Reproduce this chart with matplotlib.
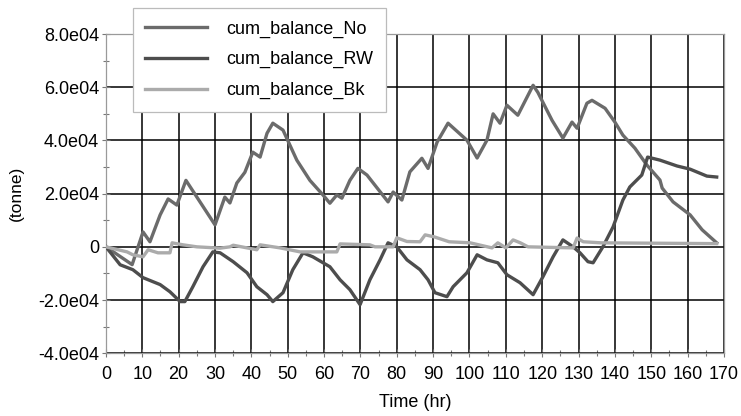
import matplotlib
matplotlib.use('Agg')
import matplotlib.pyplot as plt
from matplotlib.ticker import MultipleLocator, FuncFormatter

# keypoints (hr, tonne)
t_no = [0, 7.2, 10.2, 12.1, 14.9, 17.1, 19.5, 22.0, 30.0, 32.7, 34.1, 36.0, 38.2, 40.4, 42.4,
        44.3, 45.9, 48.7, 52.5, 56.1, 59.7, 61.6, 63.5, 64.9, 67.1, 69.3, 71.8, 77.6, 79.0,
        81.4, 83.6, 86.9, 88.6, 91.1, 94.1, 99.3, 102.1, 104.8, 106.5, 108.4, 110.3, 113.3,
        117.5, 118.8, 122.7, 125.7, 128.2, 129.6, 132.3, 133.7, 137.3, 140.0, 142.2, 145.5,
        148.8, 152.4, 153.0, 156.0, 160.7, 164.0, 168]
v_no = [0, -6700, 5600, 1900, 12000, 18000, 15700, 25000, 8250, 18700, 16500, 24000, 28000,
        35600, 33750, 42700, 46500, 43900, 32600, 25000, 19500, 16400, 19500, 18300, 25000,
        29500, 27000, 16900, 20600, 17600, 28200, 33300, 29500, 39400, 46500, 40100, 33400,
        40100, 50000, 46500, 53250, 49500, 60750, 58100, 47600, 40900, 46900, 44600, 54000,
        55100, 52100, 46900, 42000, 37100, 30750, 25100, 22100, 16900, 12000, 6400, 1500]

t_rw = [0, 3.9, 7.4, 10.2, 14.9, 17.6, 20.4, 21.7, 23.9, 26.7, 29.4, 31.4, 35.0, 38.8, 41.5,
        44.3, 45.9, 48.7, 51.4, 54.2, 56.9, 61.6, 64.4, 67.1, 69.9, 72.6, 75.4, 77.6, 80.0,
        82.8, 86.4, 88.6, 90.5, 93.8, 95.5, 99.3, 102.1, 104.8, 107.8, 110.3, 113.9, 117.5,
        120.2, 123.0, 125.7, 128.5, 130.4, 132.6, 134.0, 136.7, 139.5, 142.2, 144.1, 147.4,
        149.0, 152.4, 157.1, 160.7, 165.3, 168]
v_rw = [0, -6750, -8600, -11600, -14200, -16900, -20600, -20600, -15000, -7500, -1900, -2250,
        -5600, -9750, -15000, -18000, -20600, -17250, -8600, -2250, -3750, -7500, -12400,
        -16100, -21750, -12400, -4900, 1500, 0, -4900, -8600, -12400, -17250, -18750, -15000,
        -9750, -3000, -4900, -6000, -10500, -13500, -18000, -11250, -3750, 2600, 0, -2250,
        -5600, -6000, 0, 7500, 17600, 22500, 27000, 33750, 32600, 30400, 29200, 26600, 26250]

t_bk = [0, 5.8, 7.4, 10.2, 11.6, 14.3, 17.6, 18.2, 21.2, 25.0, 31.4, 34.1, 35.0, 41.5, 42.4,
        47.9, 53.4, 63.5, 64.4, 72.6, 74.0, 79.0, 80.0, 82.8, 86.4, 87.8, 90.3, 94.4, 100.2,
        106.2, 107.8, 110.0, 112.0, 114.0, 116.1, 128.5, 129.6, 131.3, 136.2, 168]
v_bk = [0, -1900, -3000, -3750, -1100, -2250, -2250, 1500, 750, 0, -500, 0, 600, -1100, 750,
        -400, -1900, -1900, 1100, 750, 0, 0, 3400, 2000, 1900, 4500, 3750, 1900, 1500, -400,
        1500, -400, 2600, 1500, 0, -400, 3300, 1900, 1500, 1200]

xticks = list(range(0, 171, 10))
yticks = [-40000, -20000, 0, 20000, 40000, 60000, 80000]

plt.rcParams['font.family'] = ['Liberation Sans', 'DejaVu Sans']

fig = plt.figure(figsize=(7.41, 4.16), dpi=100)
ax = fig.add_axes([0.143, 0.151, 0.834, 0.767])

ax.plot(t_no, v_no, color='#6b6b6b', lw=2.4, label='cum_balance_No', zorder=3)
ax.plot(t_rw, v_rw, color='#4d4d4d', lw=2.4, label='cum_balance_RW', zorder=3)
ax.plot(t_bk, v_bk, color='#ababab', lw=2.4, label='cum_balance_Bk', zorder=3)

ax.set_xlim(0, 170)
ax.set_ylim(-40000, 80000)
ax.set_xticks(xticks)
ax.set_yticks(yticks)
ax.xaxis.set_minor_locator(MultipleLocator(5))
ax.yaxis.set_minor_locator(MultipleLocator(10000))

def yfmt(v, pos):
    if v == 0:
        return '0'
    return '%.1fe04' % (v / 1e4)

ax.yaxis.set_major_formatter(FuncFormatter(yfmt))
ax.grid(True, which='major', color='black', lw=1.1)
ax.set_axisbelow(True)

for s in ax.spines.values():
    s.set_color('#9a9a9a')
    s.set_linewidth(0.9)

ax.tick_params(axis='both', which='major', direction='inout', length=6, color='#777777', width=0.8)
ax.tick_params(axis='both', which='minor', direction='inout', length=4, color='#777777', width=0.8)
ax.tick_params(axis='y', labelsize=13, pad=2)
ax.tick_params(axis='x', labelsize=13, pad=6)

ax.set_xlabel('Time (hr)', fontsize=13, labelpad=8)
ax.set_ylabel('(tonne)', fontsize=12.5, labelpad=10)

leg = fig.legend(loc='upper left', bbox_to_anchor=(0.179, 0.981), bbox_transform=fig.transFigure,
                 fontsize=13, frameon=True, fancybox=False, framealpha=1, edgecolor='#bbbbbb',
                 handlelength=3.4, handletextpad=1.1, labelspacing=0.75, borderpad=0.7,
                 borderaxespad=0)
leg.get_frame().set_linewidth(0.9)
leg.set_zorder(10)

fig.savefig('out.png', dpi=100)
